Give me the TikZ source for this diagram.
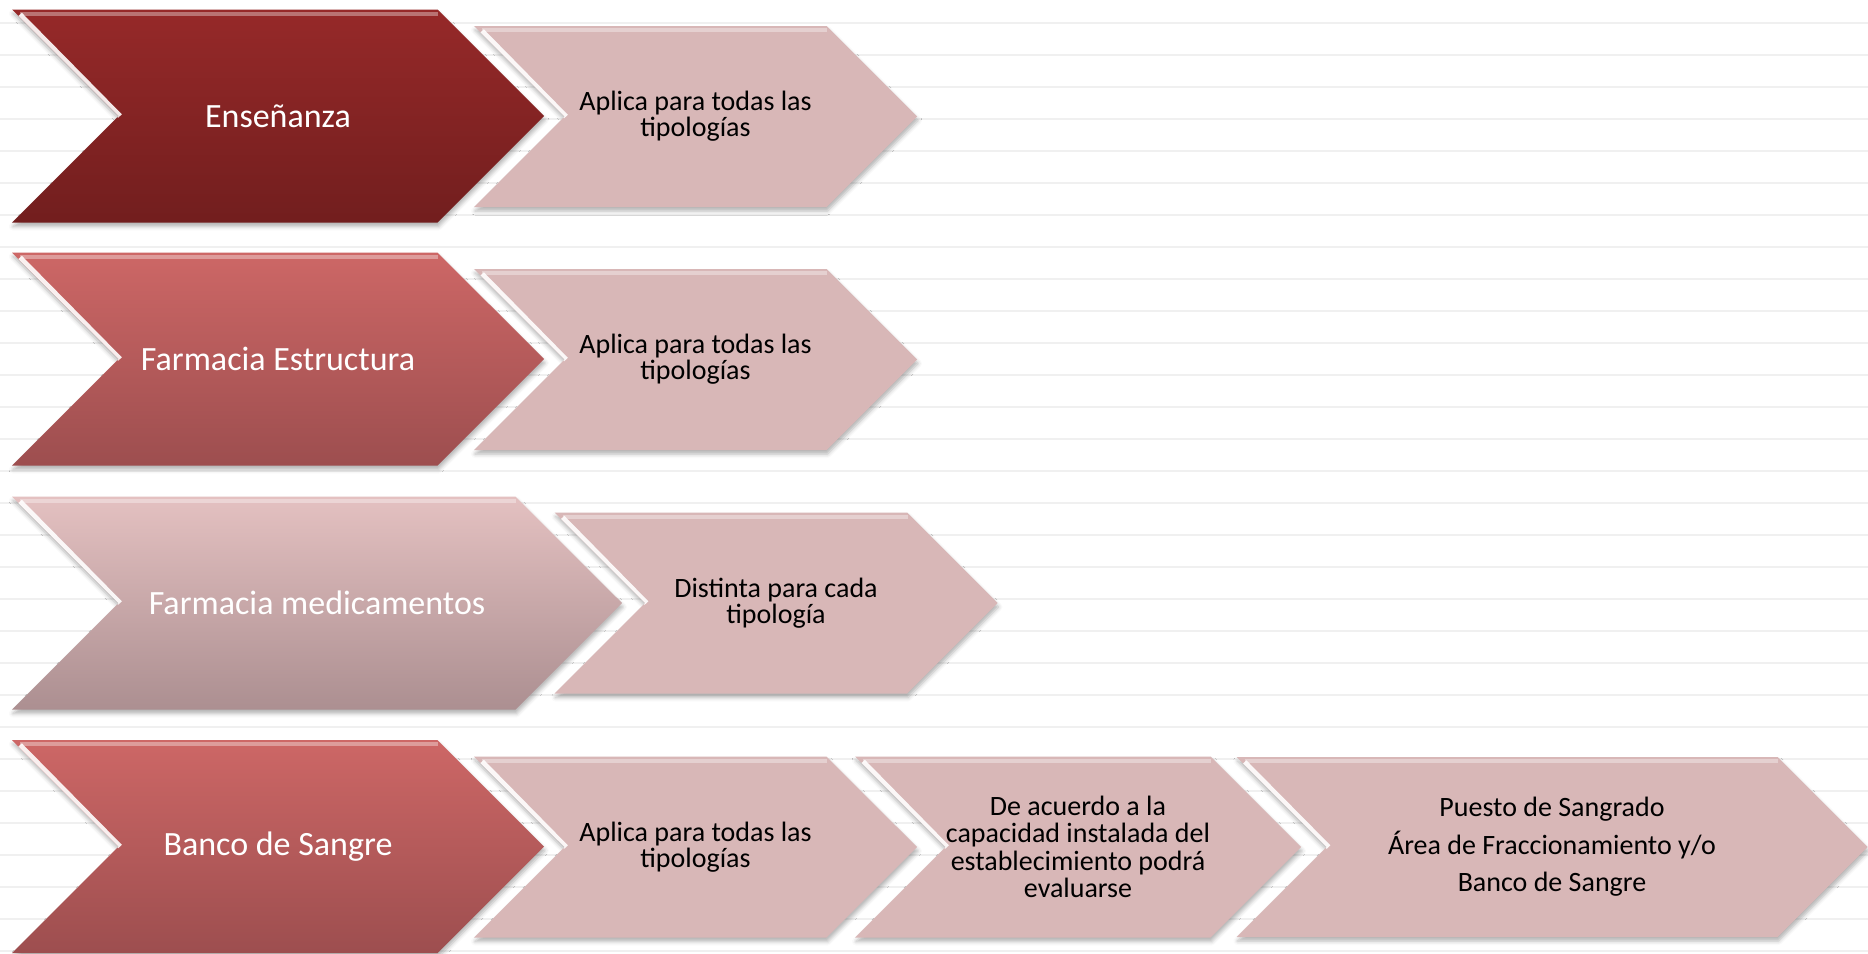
\documentclass[tikz,border=0pt]{standalone}
\usepackage{fontspec}
\setmainfont{Carlito}
\usetikzlibrary{shapes.symbols,shadows.blur}

\definecolor{rojoA}{RGB}{150,41,41}
\definecolor{rojoB}{RGB}{114,30,30}
\definecolor{medioA}{RGB}{205,103,102}
\definecolor{medioB}{RGB}{157,78,79}
\definecolor{palidoA}{RGB}{228,193,193}
\definecolor{palidoB}{RGB}{172,143,145}
\definecolor{rosa}{RGB}{216,183,183}
\definecolor{renglon}{RGB}{240,240,240}

\tikzset{bisel/.style={path picture={
	\draw[white, line width=2.5pt, opacity=.9] ([xshift=4pt,yshift=-2.5pt]path picture bounding box.north west) -- ([xshift=#1+1pt]path picture bounding box.west);
	\draw[white, line width=2pt, opacity=.35] ([xshift=4pt,yshift=-2pt]path picture bounding box.north west) -- ([xshift=-#1,yshift=-2pt]path picture bounding box.north east);
}}}

\begin{document}
\begin{tikzpicture}[x=0.5pt,y=-0.5pt]
			\tikzstyle{flecha}=[signal, signal from=west, signal to=east, signal pointer angle=90, inner sep=0pt, align=center, blur shadow={shadow xshift=0.5pt, shadow yshift=-2pt, shadow opacity=30, shadow blur radius=2pt, shadow blur extra rounding=0pt}]
			\tikzstyle{grande}=[flecha, minimum width=266pt, minimum height=106.5pt, text=white, font=\fontsize{17}{20}\selectfont, bisel=53pt]
			\tikzstyle{chica}=[flecha, minimum width=221.5pt, minimum height=90.5pt, fill=rosa, font=\fontsize{14}{13}\selectfont, bisel=45pt]

			\useasboundingbox (0,0) rectangle (1868,953);
			\foreach \k in {0,...,29}
				\draw[renglon, line width=0.6pt] (0,23+32*\k) -- (1868,23+32*\k);

			\node (ense) at (278,116) [grande, top color=rojoA, bottom color=rojoB] {Enseñanza};
			\node (ensea) at (695.5,116.5) [chica] {Aplica para todas las\\tipologías};

			\node (fest) at (278,359) [grande, top color=medioA, bottom color=medioB] {Farmacia Estructura};
			\node (festa) at (695.5,359.5) [chica] {Aplica para todas las\\tipologías};

			\node (fmed) at (317,603) [grande, minimum width=305pt, top color=palidoA, bottom color=palidoB] {Farmacia medicamentos};
			\node (fmeda) at (776,603) [chica] {Distinta para cada\\tipología};

			\node (banco) at (278,846.5) [grande, top color=medioA, bottom color=medioB] {Banco de Sangre};
			\node (bancoa) at (695.5,847) [chica] {Aplica para todas las\\tipologías};
			\node (bancob) at (1078,847) [chica, minimum width=223pt, font=\fontsize{14}{13.7}\selectfont] {De acuerdo a la\\capacidad instalada del\\establecimiento podrá\\evaluarse};
			\node (bancoc) at (1552,847) [chica, minimum width=315.5pt, minimum height=90pt, font=\fontsize{14}{18.75}\selectfont] {Puesto de Sangrado\\Área de Fraccionamiento y/o\\Banco de Sangre};
		\end{tikzpicture}
\end{document}
